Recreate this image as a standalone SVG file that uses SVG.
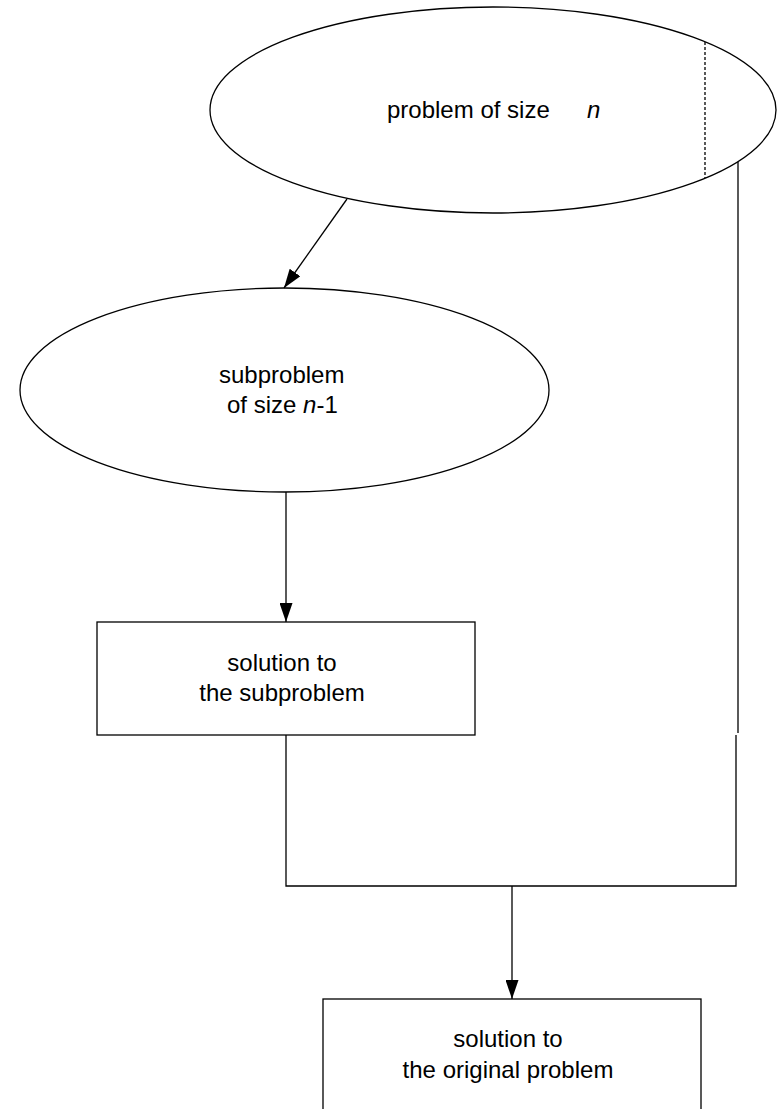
<svg xmlns="http://www.w3.org/2000/svg" width="778" height="1109" viewBox="0 0 778 1109">
<style>
.s{fill:#fff;stroke:#000;stroke-width:1.3}
.c{fill:none;stroke:#000;stroke-width:1.3}
.t{font-family:"Liberation Sans",Arial,sans-serif;font-size:24px;fill:#000}
.i{font-style:italic}
</style>
<defs>
<marker id="ah" viewBox="0 0 19 13" refX="19" refY="6.5" markerWidth="19" markerHeight="13" markerUnits="userSpaceOnUse" orient="auto">
<path d="M0,0 L19,6.5 L0,13 Z" fill="#000"/>
</marker>
</defs>
<g id="problem">
<ellipse class="s" cx="493" cy="110" rx="283" ry="103"/>
<line x1="705" y1="42" x2="705" y2="178" stroke="#000" stroke-width="1.3" stroke-dasharray="3,2"/>
<text class="t" x="387" y="118">problem of size</text>
<text class="t i" x="587" y="118">n</text>
</g>
<g id="subproblem">
<ellipse class="s" cx="284.5" cy="390" rx="264.5" ry="102"/>
<text class="t" x="219" y="383">subproblem</text>
<text class="t" x="227" y="413">of size <tspan class="i">n</tspan>-1</text>
</g>
<g id="subsolution">
<rect class="s" x="97" y="622" width="378" height="113"/>
<text class="t" x="282" y="671" text-anchor="middle">solution to</text>
<text class="t" x="282" y="701" text-anchor="middle">the subproblem</text>
</g>
<g id="solution">
<rect class="s" x="323" y="999" width="378" height="130"/>
<text class="t" x="508" y="1047" text-anchor="middle">solution to</text>
<text class="t" x="508" y="1078" text-anchor="middle">the original problem</text>
</g>
<g id="connectors">
<line class="c" x1="347" y1="199" x2="284" y2="288" marker-end="url(#ah)"/>
<line class="c" x1="286" y1="492" x2="286" y2="622" marker-end="url(#ah)"/>
<polyline class="c" points="286,735 286,886 736,886 736,735"/>
<line class="c" x1="738" y1="162" x2="738" y2="733"/>
<line class="c" x1="512" y1="886" x2="512" y2="999" marker-end="url(#ah)"/>
</g>
</svg>
